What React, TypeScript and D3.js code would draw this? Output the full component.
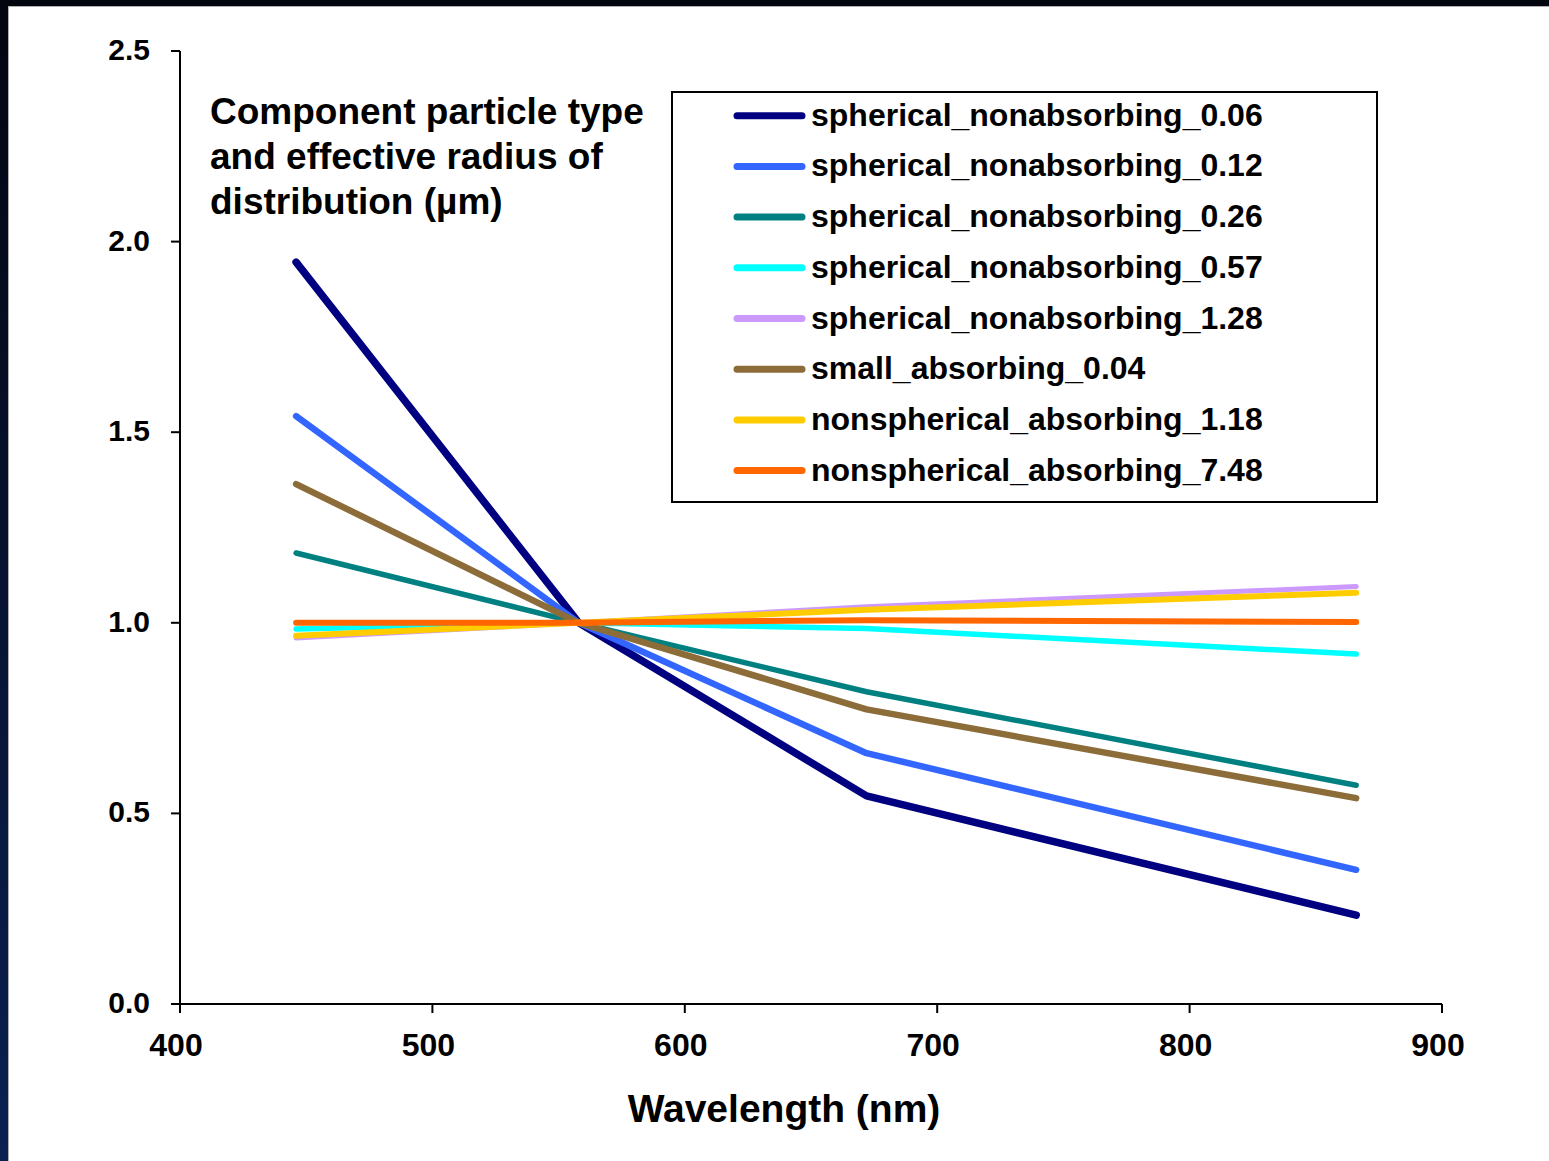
import React, { useEffect } from 'react'
import * as d3 from 'd3'

// MISR band wavelengths (nm)
const wavelengths = [446, 558, 672, 866]

// spectral dependence of extinction, normalised at 558 nm
const sph006 = [1.946, 1.0, 0.546, 0.233]
const sph012 = [1.542, 1.0, 0.658, 0.352]
const sph026 = [1.183, 1.0, 0.819, 0.574]
const sph057 = [0.984, 1.0, 0.985, 0.918]
const sph128 = [0.96, 1.0, 1.042, 1.095]
const small004 = [1.364, 1.0, 0.773, 0.54]
const nonsph118 = [0.966, 1.0, 1.034, 1.079]
const nonsph748 = [1.0, 1.0, 1.007, 1.002]

const seriesNames = [
  'spherical_nonabsorbing_0.06',
  'spherical_nonabsorbing_0.12',
  'spherical_nonabsorbing_0.26',
  'spherical_nonabsorbing_0.57',
  'spherical_nonabsorbing_1.28',
  'small_absorbing_0.04',
  'nonspherical_absorbing_1.18',
  'nonspherical_absorbing_7.48',
]
const seriesValues = [sph006, sph012, sph026, sph057, sph128, small004, nonsph118, nonsph748]
const colors = ['#000080', '#3366ff', '#008080', '#00ffff', '#cc99ff', '#8c6d3a', '#ffcc00', '#ff6600']
const widths = [7.5, 6.5, 5.5, 5.5, 5, 6.5, 6, 6]

const xTicks = [400, 500, 600, 700, 800, 900]
const yTicks = [0, 0.5, 1.0, 1.5, 2.0, 2.5]

const titleLines = ['Component particle type', 'and effective radius of', 'distribution (\u00b5m)']

const W = 1549
const H = 1161
const font = "'Liberation Sans', Arial, Helvetica, sans-serif"

export default function App() {
  useEffect(() => {
    document.body.style.margin = '0'
  }, [])

  const x = d3.scaleLinear().domain([400, 900]).range([180, 1442])
  const y = d3.scaleLinear().domain([0, 2.5]).range([1004, 51])
  const fmt = d3.format('.1f')

  const line = d3.line<number>()
    .x((d, i) => x(wavelengths[i]))
    .y(d => y(d))

  const legendX = 672
  const legendY = 92
  const rowY0 = 115.7
  const rowStep = 50.7

  return (
    <svg width={W} height={H} style={{ display: 'block', background: '#fff', fontFamily: font }}>
      <defs>
        <linearGradient id="leftBand" x1="0" y1="0" x2="0" y2="1">
          <stop offset="0" stopColor="#03050f" />
          <stop offset="1" stopColor="#0b2152" />
        </linearGradient>
      </defs>
      {/* dark slide frame */}
      <rect x={0} y={0} width={W} height={6} fill="#03050f" />
      <rect x={0} y={6} width={W} height={1} fill="#b0b0b0" />
      <rect x={0} y={0} width={8} height={H} fill="url(#leftBand)" />
      <rect x={8} y={6} width={1} height={H} fill="#b0b0b0" />

      {/* axes */}
      <line x1={180} x2={180} y1={y(2.5)} y2={y(0)} stroke="#000" strokeWidth={2} />
      <line x1={x(400)} x2={x(900)} y1={1004} y2={1004} stroke="#000" strokeWidth={2} />
      {yTicks.map(t => (
        <g key={'y' + t}>
          <line x1={171} x2={180} y1={y(t)} y2={y(t)} stroke="#000" strokeWidth={2} />
          <text x={150} y={y(t) + 9} textAnchor="end" fontSize={30} fontWeight="bold">{fmt(t)}</text>
        </g>
      ))}
      {xTicks.map(t => (
        <g key={'x' + t}>
          <line x1={x(t)} x2={x(t)} y1={1004} y2={1013} stroke="#000" strokeWidth={2} />
          <text x={x(t) - 4} y={1056} textAnchor="middle" fontSize={32} fontWeight="bold">{t}</text>
        </g>
      ))}
      <text x={784} y={1122} textAnchor="middle" fontSize={39} fontWeight="bold">Wavelength (nm)</text>

      {/* series */}
      {seriesValues.map((vals, i) => (
        <path key={seriesNames[i]} d={line(vals) || ''} fill="none" stroke={colors[i]}
          strokeWidth={widths[i]} strokeLinecap="round" strokeLinejoin="round" />
      ))}

      {/* title */}
      {titleLines.map((t, i) => (
        <text key={t} x={210} y={124 + i * 45} fontSize={37} fontWeight="bold">{t}</text>
      ))}

      {/* legend */}
      <rect x={legendX} y={legendY} width={705} height={410} fill="#fff" stroke="#000" strokeWidth={2} />
      {seriesNames.map((name, i) => (
        <g key={'leg' + name}>
          <line x1={737} x2={802} y1={rowY0 + i * rowStep} y2={rowY0 + i * rowStep}
            stroke={colors[i]} strokeWidth={7} strokeLinecap="round" />
          <text x={811} y={rowY0 + i * rowStep + 10} fontSize={32} fontWeight="bold">{name}</text>
        </g>
      ))}
    </svg>
  )
}
